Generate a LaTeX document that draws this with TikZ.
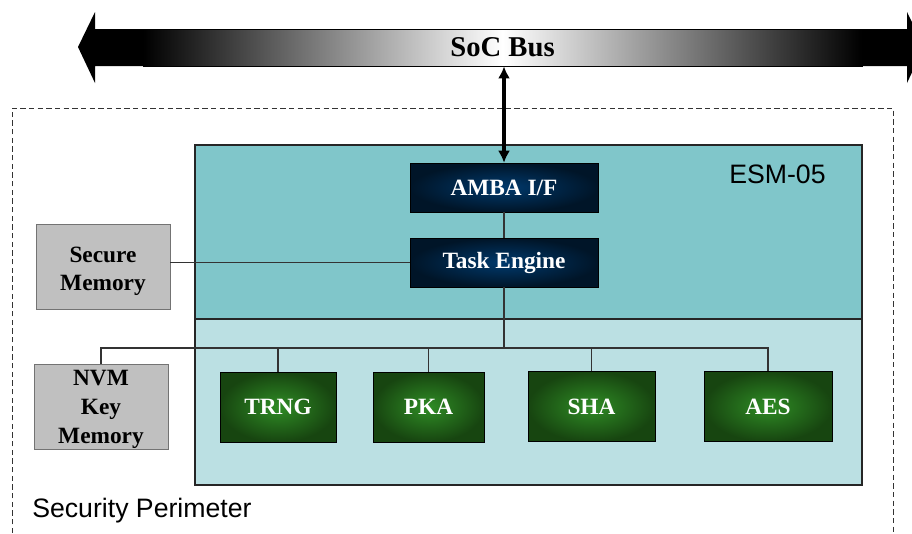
\documentclass[tikz,border=0pt]{standalone}
\usepackage{fontspec}
\setmainfont{Liberation Serif}
\setsansfont{Liberation Sans}
\usetikzlibrary{arrows.meta}

\definecolor{esmtop}{HTML}{80C6CA}
\definecolor{esmlow}{HTML}{BBE0E3}
\definecolor{memgray}{HTML}{C0C0C0}
\definecolor{navyedge}{HTML}{001528}
\definecolor{navymid}{HTML}{00396C}
\definecolor{greenedge}{HTML}{174510}
\definecolor{greenmid}{HTML}{2F8C25}

\begin{document}
\begin{tikzpicture}[
    x=0.75pt, y=-0.75pt,
    navybox/.style={draw=black, inner color=navymid, outer color=navyedge,
        text=white, font=\fontsize{17.5}{21}\selectfont\bfseries,
        minimum width=141pt, minimum height=36.75pt, inner sep=0pt},
    greenbox/.style={draw=black, inner color=greenmid, outer color=greenedge,
        text=white, font=\fontsize{17.5}{21}\selectfont\bfseries,
        minimum height=52.5pt, inner sep=0pt},
    graybox/.style={draw=black!55, fill=memgray, align=center,
        font=\fontsize{17.5}{21.5}\selectfont\bfseries,
        minimum width=100.5pt, minimum height=63.75pt, inner sep=0pt},
    link/.style={draw=black!80, line width=0.8pt},
    >={Latex[length=9pt,width=9pt]}
]
    \useasboundingbox (0,0) rectangle (912,533);

    % Security perimeter
    \draw[black!80, dash pattern=on 4pt off 2.5pt, line width=0.6pt]
        (12,533) -- (12,108) -- (893,108) -- (893,533);
    \node[font=\sffamily\fontsize{20}{24}\selectfont, anchor=base west, inner sep=0pt]
        (perimeter) at (32,517) {Security Perimeter};

    % ESM-05 block
    \draw[black!85, fill=esmlow, line width=0.8pt] (195,319) rectangle (862,485);
    \draw[black!85, fill=esmtop, line width=0.8pt] (195,145) rectangle (862,319);
    \node[font=\sffamily\fontsize{20}{24}\selectfont, anchor=base west, inner sep=0pt]
        (esm) at (729,183) {ESM-05};

    % SoC bus
    \node[draw=black, line width=0.6pt, left color=black, right color=black, middle color=white,
        minimum width=539.25pt, minimum height=27.75pt, inner sep=0pt,
        font=\fontsize{21.5}{24}\selectfont\bfseries]
        (bus) at (502.5,47.5) {SoC Bus};
    \fill[black] (143,29) -- (95,29) -- (95,12) -- (78,47) -- (95,83) -- (95,66) -- (143,66) -- cycle;
    \fill[black] (862,29) -- (907,29) -- (907,12) -- (924,47) -- (907,83) -- (907,66) -- (862,66) -- cycle;

    % Blocks
    \node[navybox] (amba) at (504,187.5) {AMBA I/F};
    \node[navybox] (task) at (504,262.5) {Task Engine};
    \node[graybox] (secmem) at (103,266.5) {\rule{0pt}{19pt}Secure\\Memory};
    \node[graybox] (nvm) at (101,406.5) {\rule{0pt}{16pt}NVM\\Key\\Memory};
    \node[greenbox, minimum width=87pt] (trng) at (278,407) {TRNG};
    \node[greenbox, minimum width=83.25pt] (pka) at (428.5,407) {PKA};
    \node[greenbox, minimum width=95.25pt] (sha) at (591.5,406.5) {SHA};
    \node[greenbox, minimum width=96pt] (aes) at (768,406.5) {AES};

    % Connections
    \draw[<->, line width=2.4pt] (amba.north |- bus.south) -- (amba.north);
    \coordinate (tap) at (504,348);
    \draw[link] (amba) -- (task);
    \draw[link] (task.west) -- (task.west -| secmem.east);
    \draw[link] (task) -- (tap);
    \draw[link] (nvm.north) |- (tap) -| (aes.north);
    \foreach \blk in {trng,pka,sha}
        \draw[link] (\blk.north) -- (\blk.north |- tap);
\end{tikzpicture}
\end{document}
